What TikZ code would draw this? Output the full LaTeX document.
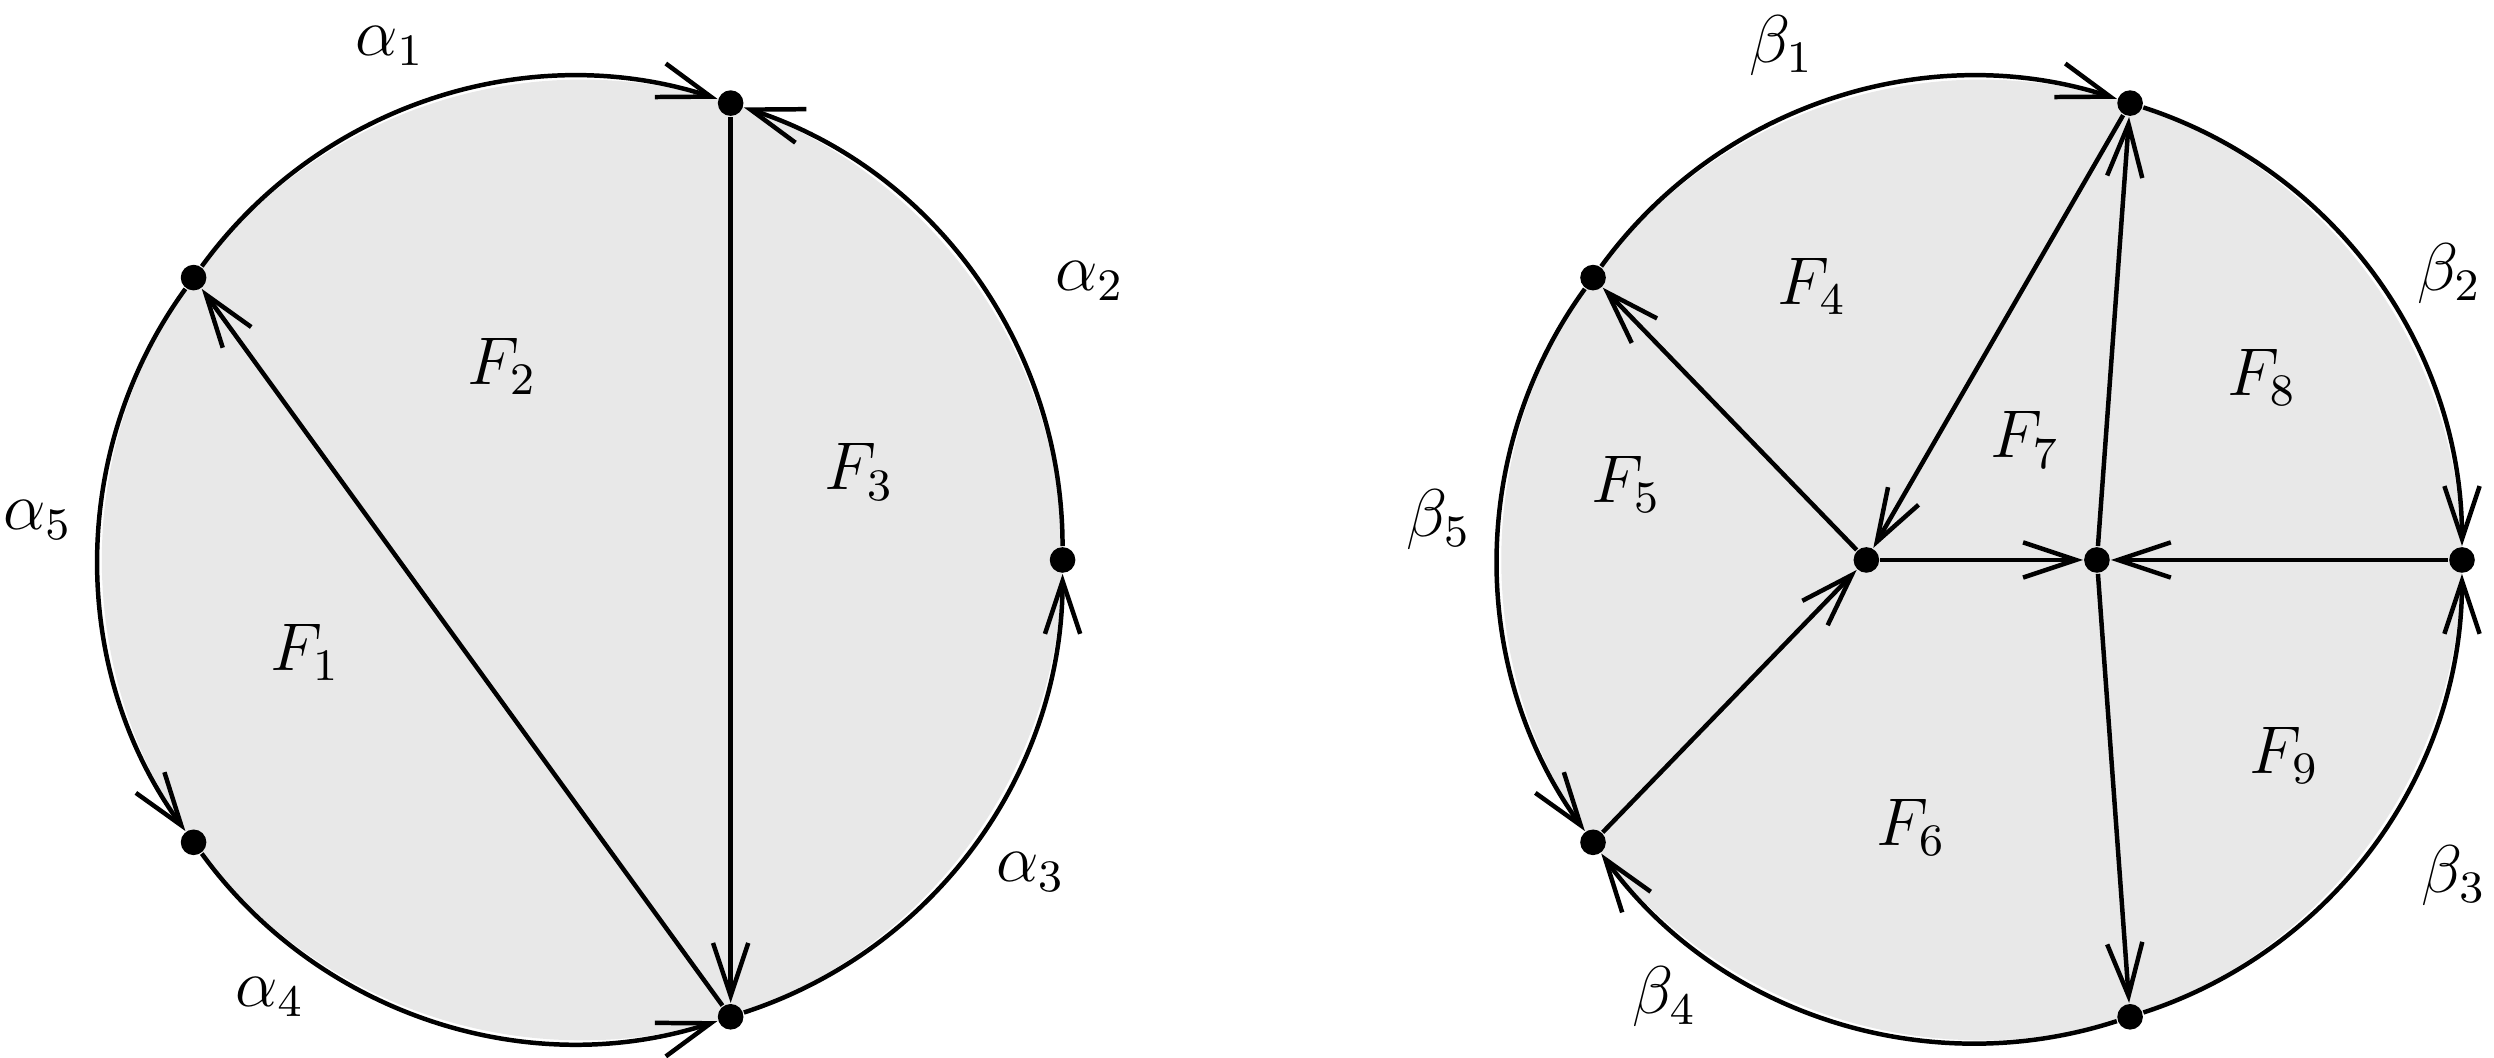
\documentclass[tikz,border=0pt]{standalone}
\usetikzlibrary{arrows.meta}
\begin{document}
\begin{tikzpicture}[
    >={Straight Barb[length=0.33cm,width=0.22cm]},
    pt/.style={circle,fill=black,inner sep=0pt,minimum size=0.16cm},
    edge/.style={line width=0.028cm,->},
    cw/.style={edge,bend left=36,looseness=0.94},
    ccw/.style={edge,bend right=36,looseness=0.94}]
        \useasboundingbox (-3.636000,-3.109000) rectangle (11.940000,3.497000);
        {\large

        % Changing color 232 232 232
        \definecolor{r232g232b232}{rgb}{0.910000,0.910000,0.910000}%

        % Filling discs
        \fill [r232g232b232] (0.000000,0.000000) circle (3.000000);%
        \fill [r232g232b232] (8.740000,0.000000) circle (3.000000);%

        % Marking points of the left disc
        \node [pt] (A1) at (0.927051,2.853170) {};%
        \node [pt] (A2) at (3.000000,0.000000) {};%
        \node [pt] (A3) at (0.927051,-2.853170) {};%
        \node [pt] (A4) at (-2.427051,-1.763356) {};%
        \node [pt] (A5) at (-2.427051,1.763356) {};%

        % Drawing arcs of the left disc
        \draw [cw] (A5) to (A1);%
        \draw [ccw] (A2) to (A1);%
        \draw [ccw] (A3) to (A2);%
        \draw [ccw] (A4) to (A3);%
        \draw [ccw] (A5) to (A4);%

        % Drawing chords of the left disc
        \draw [edge] (A1) -- (A3);%
        \draw [edge] (A3) -- (A5);%

        % Labels of the left disc
        \node (al1) at (-1.200000,3.210000) {$\alpha_1$};%
        \node (al2) at (3.170000,1.740000) {$\alpha_2$};%
        \node (al3) at (2.800000,-1.950000) {$\alpha_3$};%
        \node (al4) at (-1.950000,-2.730000) {$\alpha_4$};%
        \node (al5) at (-3.400000,0.250000) {$\alpha_5$};%
        \node (F1) at (-1.730000,-0.580000) {$F_1$};%
        \node (F2) at (-0.500000,1.210000) {$F_2$};%
        \node (F3) at (1.730000,0.550000) {$F_3$};%

        % Marking points of the right disc
        \node [pt] (B1) at (9.667051,2.853170) {};%
        \node [pt] (B2) at (11.740000,0.000000) {};%
        \node [pt] (B3) at (9.667051,-2.853170) {};%
        \node [pt] (B4) at (6.312949,-1.763356) {};%
        \node [pt] (B5) at (6.312949,1.763356) {};%
        \node [pt] (B6) at (8.020000,0.000000) {};%
        \node [pt] (B7) at (9.460000,0.000000) {};%

        % Drawing arcs of the right disc
        \draw [cw] (B5) to (B1);%
        \draw [cw] (B1) to (B2);%
        \draw [ccw] (B3) to (B2);%
        \draw [cw] (B3) to (B4);%
        \draw [ccw] (B5) to (B4);%

        % Drawing segments of the right disc
        \draw [edge] (B1) -- (B6);%
        \draw [edge] (B7) -- (B1);%
        \draw [edge] (B2) -- (B7);%
        \draw [edge] (B6) -- (B7);%
        \draw [edge] (B7) -- (B3);%
        \draw [edge] (B4) -- (B6);%
        \draw [edge] (B6) -- (B5);%

        % Labels of the right disc
        \node (be1) at (7.490000,3.210000) {$\beta_1$};%
        \node (be2) at (11.660000,1.790000) {$\beta_2$};%
        \node (be3) at (11.690000,-1.970000) {$\beta_3$};%
        \node (be4) at (6.760000,-2.730000) {$\beta_4$};%
        \node (be5) at (5.350000,0.250000) {$\beta_5$};%
        \node (F4) at (7.680000,1.710000) {$F_4$};%
        \node (F5) at (6.520000,0.470000) {$F_5$};%
        \node (F6) at (8.300000,-1.670000) {$F_6$};%
        \node (F7) at (9.010000,0.750000) {$F_7$};%
        \node (F8) at (10.490000,1.140000) {$F_8$};%
        \node (F9) at (10.630000,-1.220000) {$F_9$};%
        }
    \end{tikzpicture}
\end{document}
